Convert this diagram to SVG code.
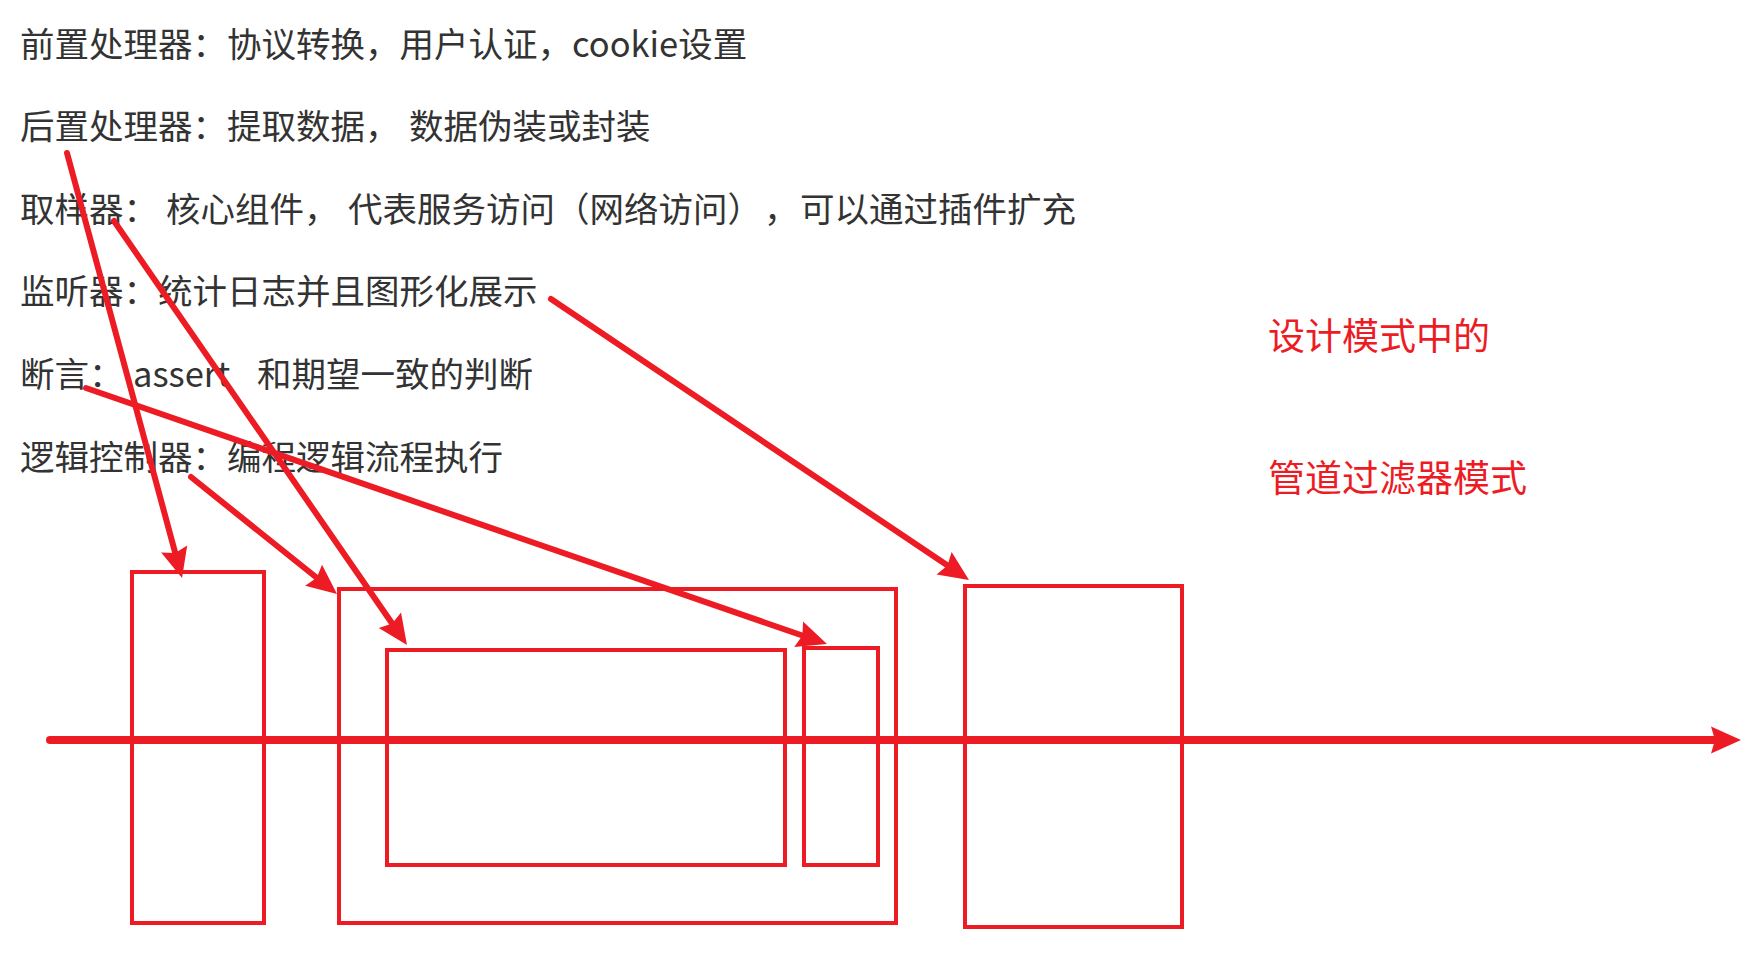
<svg xmlns="http://www.w3.org/2000/svg" width="1756" height="961" viewBox="0 0 1756 961">
  <style>
    .desc { font-family: "Noto Sans CJK SC", "Microsoft YaHei", sans-serif; font-size: 34.5px; fill: #333333; }
    .note { font-family: "Noto Sans CJK SC", "Microsoft YaHei", sans-serif; font-size: 37px; fill: #ED1C24; }
    .box { fill: none; stroke: #ED1C24; stroke-width: 4; }
    .arrow { fill: none; stroke: #ED1C24; stroke-width: 6; stroke-linecap: round; marker-end: url(#ah); }
    .axis { fill: none; stroke: #ED1C24; stroke-width: 8; stroke-linecap: round; marker-end: url(#ah); }
  </style>
  <defs>
    <marker id="ah" markerUnits="userSpaceOnUse" viewBox="-12 -16 36 32" markerWidth="36" markerHeight="32" refX="0" refY="0" orient="auto" overflow="visible">
      <path d="M20,0 L-10,-13.5 L-6,0 L-10,13.5 Z" fill="#ED1C24"/>
    </marker>
  </defs>
  <rect x="0" y="0" width="1756" height="961" fill="#ffffff"/>

  <g id="text-pre"><text class="desc" x="20" y="56.5">前置处理器：协议转换，用户认证，cookie设置</text></g>
  <g id="text-post"><text class="desc" x="20" y="139">后置处理器：提取数据，<tspan x="409">数据伪装或封装</tspan></text></g>
  <g id="text-sampler"><text class="desc" x="20" y="222">取样器：<tspan x="166">核心组件，</tspan><tspan x="348">代表服务访问（网络访问）</tspan><tspan x="764">，</tspan><tspan x="800">可以通过插件扩充</tspan></text></g>
  <g id="text-listener"><text class="desc" x="20" y="304">监听器：统计日志并且图形化展示</text></g>
  <g id="text-assert"><text class="desc" x="20" y="387">断言：<tspan x="133">assert</tspan><tspan x="257">和期望一致的判断</tspan></text></g>
  <g id="text-logic"><text class="desc" x="20" y="469.5">逻辑控制器：编程逻辑流程执行</text></g>

  <g id="note-1"><text class="note" x="1268" y="350">设计模式中的</text></g>
  <g id="note-2"><text class="note" x="1268" y="491.5">管道过滤器模式</text></g>

  <g id="box-a"><rect class="box" x="132" y="572" width="132" height="351"/></g>
  <g id="box-b"><rect class="box" x="339" y="589" width="557" height="334"/></g>
  <g id="box-c"><rect class="box" x="387" y="650" width="398" height="215"/></g>
  <g id="box-d"><rect class="box" x="804" y="648" width="74" height="217"/></g>
  <g id="box-e"><rect class="box" x="965" y="586" width="217" height="341"/></g>

  <g id="connectors">
    <line class="axis" x1="50" y1="740" x2="1721" y2="740"/>
    <line class="arrow" x1="67" y1="153" x2="176.8" y2="558.7"/>
    <line class="arrow" x1="114" y1="221" x2="395.6" y2="628.5"/>
    <line class="arrow" x1="191" y1="477" x2="321.4" y2="581.5"/>
    <line class="arrow" x1="86" y1="388" x2="808.1" y2="637.5"/>
    <line class="arrow" x1="551" y1="299" x2="952.4" y2="568.8"/>
  </g>
</svg>
